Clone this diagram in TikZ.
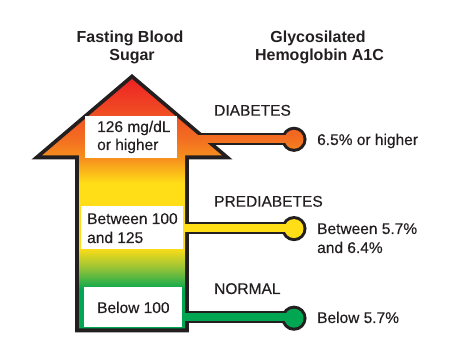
\documentclass[tikz,border=0pt]{standalone}
\usepackage{fontspec}
\setmainfont{Liberation Sans}
\newfontfamily\medfont[FakeBold=0.35]{Liberation Sans}
\definecolor{ink}{RGB}{35,31,32}
\definecolor{cred}{RGB}{237,28,36}
\definecolor{credor}{RGB}{240,80,35}
\definecolor{corange}{RGB}{243,112,33}
\definecolor{corangey}{RGB}{247,148,29}
\definecolor{cyellow}{RGB}{255,221,23}
\definecolor{cyg}{RGB}{150,195,55}
\definecolor{cgreen}{RGB}{0,166,81}
\pgfdeclareverticalshading{bsgrad}{100bp}{color(0bp)=(cgreen); color(33.46bp)=(cgreen); color(37.69bp)=(cyg); color(41.54bp)=(cyellow); color(54.04bp)=(cyellow); color(58.46bp)=(corangey); color(62.31bp)=(corange); color(67.12bp)=(credor); color(75bp)=(cred); color(100bp)=(cred)}
\newcommand\gradpiece[1]{\begin{scope}\clip #1;\shade[shading=bsgrad] (20,74) rectangle (320,334);\end{scope}}
\begin{document}
\begin{tikzpicture}[x=1pt,y=-1pt,
  hdr/.style={inner sep=0pt, anchor=base, text=ink, font=\fontsize{16}{19}\selectfont\bfseries},
  lbl/.style={inner sep=0pt, anchor=base west, text=ink, font=\fontsize{15.5}{18.5}\selectfont\medfont},
  whitebox/.style={fill=white, draw=none, inner sep=0pt},
  outerA/.style={fill=ink, draw=ink, line width=7.6pt, line join=miter},
  outerB/.style={fill=ink, draw=ink, line width=6pt}]
\useasboundingbox (0,0) rectangle (450,363);
% black outlines (underlay)
\filldraw[outerA] (132,79) -- (222,155.5) -- (185,155.5) -- (185,328.5) -- (79,328.5) -- (79,155.5) -- (42,155.5) -- cycle;
\filldraw[outerB] (180,135.95) rectangle (294,142.45);
\filldraw[outerB] (180,225.0) rectangle (294,231.5);
\filldraw[outerB] (180,314.0) rectangle (294,320.5);
\filldraw[outerB] (294,139.3) circle[radius=9.5];
\filldraw[outerB] (294,228.6) circle[radius=9.5];
\filldraw[outerB] (294,318.2) circle[radius=9.5];
% gradient fills
\gradpiece{(132,79) -- (222,155.5) -- (185,155.5) -- (185,328.5) -- (79,328.5) -- (79,155.5) -- (42,155.5) -- cycle}
\gradpiece{(180,135.95) rectangle (294,142.45)}
\gradpiece{(180,225.0) rectangle (294,231.5)}
\gradpiece{(180,314.0) rectangle (294,320.5)}
\gradpiece{(294,139.3) circle[radius=9.5]}
\gradpiece{(294,228.6) circle[radius=9.5]}
\gradpiece{(294,318.2) circle[radius=9.5]}
% white boxes
\node[whitebox, minimum width=92pt, minimum height=42pt] (box1) at (131,137.5) {};
\node[whitebox, minimum width=102pt, minimum height=43pt] (box2) at (132,227.5) {};
\node[whitebox, minimum width=98pt, minimum height=40pt] (box3) at (133,307) {};
% headers
\node[hdr] (h1a) at (130,42.3) {Fasting Blood};
\node[hdr] (h1b) at (132,61) {Sugar};
\node[hdr] (h2a) at (318,42.3) {Glycosilated};
\node[hdr] (h2b) at (319.5,61) {Hemoglobin A1C};
% box texts
\node[lbl] (t1a) at (97,132) {126 mg/dL};
\node[lbl] (t1b) at (97,150) {or higher};
\node[lbl] (t2a) at (87,224) {Between 100};
\node[lbl] (t2b) at (87,243) {and 125};
\node[lbl] (t3a) at (97,313) {Below 100};
% categories
\node[lbl] (c1) at (214,115.7) {DIABETES};
\node[lbl] (c2) at (214,206.7) {PREDIABETES};
\node[lbl] (c3) at (214,294) {NORMAL};
% values
\node[lbl] (v1) at (317,145) {6.5\% or higher};
\node[lbl] (v2a) at (317,234) {Between 5.7\%};
\node[lbl] (v2b) at (317,253) {and 6.4\%};
\node[lbl] (v3) at (317,323) {Below 5.7\%};
\end{tikzpicture}
\end{document}
